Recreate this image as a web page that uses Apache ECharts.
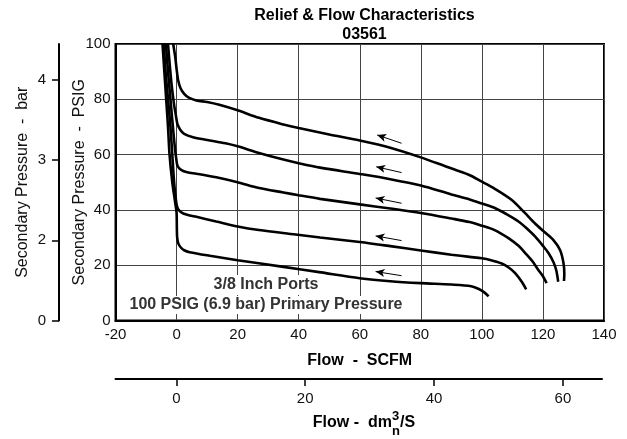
<!DOCTYPE html>
<html>
<head>
<meta charset="utf-8">
<script src="https://cdn.jsdelivr.net/npm/echarts@6/dist/echarts.min.js"></script>
<style>
  html, body { margin: 0; padding: 0; background: #fff; }
  #chart { width: 627px; height: 439px; }
</style>
</head>
<body>
<div id="chart"></div>
<script>
// Relief & flow curves for regulator 03561 (3/8" ports, 100 PSIG primary)
// Each curve: [flow SCFM, secondary pressure PSIG]
const curve80 = [[-1.1,100],[-0.4,95],[0,91],[0.5,87],[1.3,84],[2.5,82],[4,80.6],[6.5,79.6],[10,79],[14,78],[20,76],[27,73.3],[35,70.9],[40,69.6],[50,67.3],[60,65.1],[70,62.5],[80,59],[88,55.8],[95.7,52.7],[100,50.2],[104,47.8],[109.8,43.6],[114,39],[117.5,35],[120.5,32],[123.5,29],[125.6,25.5],[126.7,21],[127,17],[126.9,14.3]];
const curve65 = [[-2.8,100],[-2.2,92],[-1.5,84],[-0.8,78],[-0.2,74],[0.3,71],[1.2,69],[2.5,67.5],[5.4,66.3],[10,65.3],[16,64.1],[20,63],[27,60.6],[35,58.2],[40,56.9],[47,55.3],[60,53],[70,51.1],[80,48.8],[90,45.6],[96,43.8],[100,42.3],[104.4,40.6],[108,38.5],[112,35.8],[115,33],[117.4,30.4],[120,27],[121.8,24.4],[123.5,21],[124.4,18],[125,14]];
const curve53 = [[-3.5,100],[-2.8,90],[-2,80],[-1.2,70],[-0.5,62],[-0.1,58.5],[0.3,56],[1.5,54.5],[3.5,53.6],[6.5,53.1],[13,51.8],[20,50],[27,47.9],[35,46.3],[40,45.3],[47,44],[60,42],[70,40.5],[80,38.9],[90,36.9],[96,35.6],[100,34.3],[104,32.8],[108.7,29.8],[112,27],[114.2,24.4],[116.5,21.5],[118.5,18.3],[120,16],[121.2,13.5]];
const curve38 = [[-4.2,100],[-3.6,90],[-2.8,80],[-2,70],[-1.4,60],[-0.8,50],[-0.3,44.5],[0.1,41.5],[0.8,39.8],[2.2,38.7],[4.3,38],[6.5,37.5],[13,35.8],[20,34],[27,32.7],[39,31.1],[47,30],[60,28.4],[70,26.9],[80,25.3],[90,23.8],[96,23],[100,22.5],[103,21.8],[106.5,20.6],[109,19],[110.9,17.1],[113,14.1],[114.5,11.3]];
const curve25 = [[-4.6,100],[-4,90],[-3.4,80],[-2.8,70],[-2.3,60],[-1.4,50],[-0.5,43],[0,39],[0.1,33],[0.2,30],[0.6,27.8],[1.4,26.4],[2.5,25.4],[4.3,24.7],[10.9,23.4],[20,21.8],[35,19.4],[46.7,17.5],[60,15.3],[70,14.2],[80,13.5],[90,13],[96.5,12.4],[99,11.4],[101,10],[102.2,8.7]];

// Direction arrows (tail -> head), SCFM / PSIG
const arrowTails = [[73.7,64.1],[73.7,53.5],[73.7,42.4],[73.7,28.9],[73.7,16.2]];
const arrowHeads = [[65.7,67.1],[65.4,55.6],[65.2,44.3],[65.2,30.6],[65.2,17.7]];

// Axis ranges and labels
const flowTicks = [-20, 0, 20, 40, 60, 80, 100, 120, 140];
const psigTicks = [0, 20, 40, 60, 80, 100];
const barTickLabels = ['0', '2', '3', '4'];
const dm3sTicks = [0, 20, 40, 60];
const DM3S_PER_SCFM = 0.4719;
const BAR_PER_PSI = 1 / 14.5038;

const FONT = '"Liberation Sans", Arial, Helvetica, sans-serif';

const chart = echarts.init(document.getElementById('chart'), null, { renderer: 'canvas' });

// measure text so the stacked sub/superscript in the unit label sits right after "dm"
const measureCtx = document.createElement('canvas').getContext('2d');
function textWidth(str, font) { measureCtx.font = font; return measureCtx.measureText(str).width; }
const unitMainFont = 'bold 16px ' + FONT;
const unitSmallFont = 'bold 13px ' + FONT;
const wMain = textWidth('Flow -  dm', unitMainFont);
const wSmall = textWidth('3', unitSmallFont);
const wTail = textWidth('/S', unitMainFont);
const unitTotal = wMain + wSmall + 1 + wTail;
const unitLeft = 364 - unitTotal / 2;

const curveSeries = [curve80, curve65, curve53, curve38, curve25].map((d, i) => ({
  type: 'line',
  data: d,
  showSymbol: false,
  smooth: 0.3,
  lineStyle: { color: '#000', width: 2.6 },
  z: 3,
  markLine: i === 0 ? {
    silent: true,
    symbol: ['none', 'arrow'],
    symbolSize: [6, 9],
    label: { show: false },
    lineStyle: { color: '#000', width: 1, type: 'solid' },
    data: arrowTails.map((t, k) => [{ coord: t }, { coord: arrowHeads[k] }])
  } : undefined
}));

const option = {
  animation: false,
  backgroundColor: '#fff',
  textStyle: { fontFamily: FONT },
  title: {
    text: 'Relief & Flow Characteristics',
    subtext: '03561',
    left: 359.5,
    top: 3,
    textAlign: 'center',
    itemGap: 3,
    textStyle: { fontFamily: FONT, fontSize: 16, fontWeight: 'bold', color: '#000' },
    subtextStyle: { fontFamily: FONT, fontSize: 16, fontWeight: 'bold', color: '#000' }
  },
  grid: [
    { left: 115.5, right: 23, top: 44, bottom: 118.5, show: true, borderColor: '#000', borderWidth: 2, backgroundColor: 'transparent' },
    { left: 115.5, right: 25, top: 378, height: 1, show: false }
  ],
  xAxis: [
    {
      type: 'value', gridIndex: 0, min: flowTicks[0], max: flowTicks[flowTicks.length - 1], interval: 20,
      name: 'Flow  -  SCFM', nameLocation: 'middle', nameGap: 32, nameMoveOverlap: false,
      nameTextStyle: { fontFamily: FONT, fontSize: 16, fontWeight: 'bold', color: '#000' },
      axisLine: { show: true, onZero: false, lineStyle: { color: '#000', width: 2 } },
      axisTick: { show: false },
      axisLabel: { margin: 7, fontSize: 15, color: '#111', fontFamily: FONT },
      splitLine: { show: true, lineStyle: { color: '#444', width: 1 } }
    },
    {
      type: 'value', gridIndex: 1, position: 'bottom',
      min: flowTicks[0] * DM3S_PER_SCFM, max: flowTicks[flowTicks.length - 1] * DM3S_PER_SCFM,
      axisLine: { show: true, onZero: false, lineStyle: { color: '#000', width: 2 } },
      axisTick: { show: true, customValues: dm3sTicks, length: 7, lineStyle: { color: '#000', width: 1.5 } },
      axisLabel: { customValues: dm3sTicks, margin: 12, fontSize: 15, color: '#111', fontFamily: FONT },
      splitLine: { show: false }
    }
  ],
  yAxis: [
    {
      type: 'value', gridIndex: 0, min: psigTicks[0], max: psigTicks[psigTicks.length - 1], interval: 20,
      name: 'Secondary Pressure  -  PSIG', nameLocation: 'middle', nameGap: 28, nameMoveOverlap: false,
      nameTextStyle: { fontFamily: FONT, fontSize: 16, color: '#111' },
      axisLine: { show: true, onZero: false, lineStyle: { color: '#000', width: 2 } },
      axisTick: { show: false },
      axisLabel: { margin: 5, fontSize: 15, color: '#111', fontFamily: FONT },
      splitLine: { show: true, lineStyle: { color: '#444', width: 1 } }
    },
    {
      type: 'value', gridIndex: 0, position: 'left', offset: 56.5,
      min: 0, max: psigTicks[psigTicks.length - 1] * BAR_PER_PSI, interval: 2,
      name: 'Secondary Pressure  -  bar', nameLocation: 'middle', nameGap: 28, nameMoveOverlap: false,
      nameTextStyle: { fontFamily: FONT, fontSize: 16, color: '#111' },
      axisLine: { show: true, onZero: false, lineStyle: { color: '#000', width: 2 } },
      axisTick: { show: true, length: 7, lineStyle: { color: '#000', width: 1.5 } },
      axisLabel: {
        margin: 13, fontSize: 15, color: '#111', fontFamily: FONT, showMaxLabel: false,
        formatter: v => (v % 2 === 0 ? barTickLabels[v / 2] : '')
      },
      splitLine: { show: false }
    },
    { type: 'value', gridIndex: 1, show: false }
  ],
  graphic: [
    {
      type: 'text', x: 266, y: 285, z: 1,
      style: {
        text: '3/8 Inch Ports', align: 'center', verticalAlign: 'middle',
        font: 'bold 16px ' + FONT, fill: '#333',
        backgroundColor: '#fff', padding: [2, 3]
      }
    },
    {
      type: 'text', x: 266, y: 305, z: 1,
      style: {
        text: '100 PSIG (6.9 bar) Primary Pressure', align: 'center', verticalAlign: 'middle',
        font: 'bold 16px ' + FONT, fill: '#333',
        backgroundColor: '#fff', padding: [1, 3]
      }
    },
    { type: 'text', x: unitLeft, y: 423, style: { text: 'Flow -  dm', font: unitMainFont, fill: '#000', verticalAlign: 'middle' } },
    { type: 'text', x: unitLeft + wMain, y: 416, style: { text: '3', font: unitSmallFont, fill: '#000', verticalAlign: 'middle' } },
    { type: 'text', x: unitLeft + wMain, y: 431, style: { text: 'n', font: unitSmallFont, fill: '#000', verticalAlign: 'middle' } },
    { type: 'text', x: unitLeft + wMain + wSmall + 1, y: 423, style: { text: '/S', font: unitMainFont, fill: '#000', verticalAlign: 'middle' } }
  ],
  series: curveSeries
};

chart.setOption(option);
</script>
</body>
</html>
